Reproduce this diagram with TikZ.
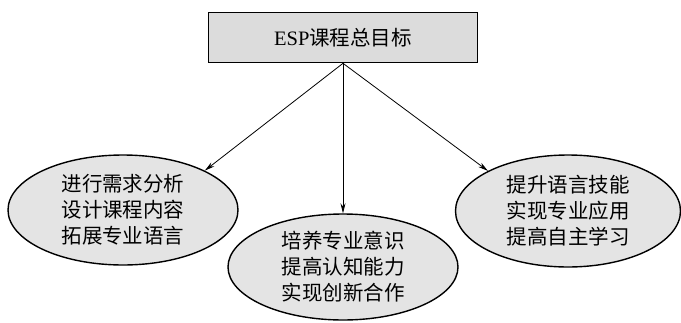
\documentclass[tikz,border=0pt]{standalone}
\usepackage{fontspec}
\setmainfont{Liberation Serif}
\newfontfamily\cjk{Noto Sans CJK SC}[BoldFont={Noto Sans CJK SC}]
\usetikzlibrary{arrows.meta,shapes.geometric}
\definecolor{boxfill}{HTML}{DCDCDC}
\definecolor{ellfill}{HTML}{E4E4E4}
\begin{document}
\begin{tikzpicture}[x=1pt,y=-1pt,
  goalbox/.style={draw=black,line width=1.6pt,fill=boxfill,minimum width=269pt,minimum height=50pt,inner sep=0pt,
    font=\fontsize{20.5pt}{26pt}\selectfont},
  goalell/.style={ellipse,draw=black,line width=1.4pt,fill=ellfill,inner sep=0pt,align=center,
    font=\fontsize{20.5pt}{26pt}\selectfont\cjk},
  conn/.style={line width=0.8pt,-{Stealth[length=10pt,width=5pt]}}]
\useasboundingbox (0,0) rectangle (681,322);
\node[goalbox] (top) at (343,37.5) {ESP{\cjk 课程总目标}};
\node[goalell,minimum width=230pt,minimum height=110pt] (left) at (123,210) {进行需求分析\\设计课程内容\\拓展专业语言};
\node[goalell,minimum width=230pt,minimum height=106pt] (mid) at (343,267) {培养专业意识\\提高认知能力\\实现创新合作};
\node[goalell,minimum width=225pt,minimum height=112pt] (right) at (568,211) {提升语言技能\\实现专业应用\\提高自主学习};
\draw[conn] (top.south) -- (left.north east);
\draw[conn] (top.south) -- (mid.north);
\draw[conn] (top.south) -- (right.north west);
\end{tikzpicture}
\end{document}
